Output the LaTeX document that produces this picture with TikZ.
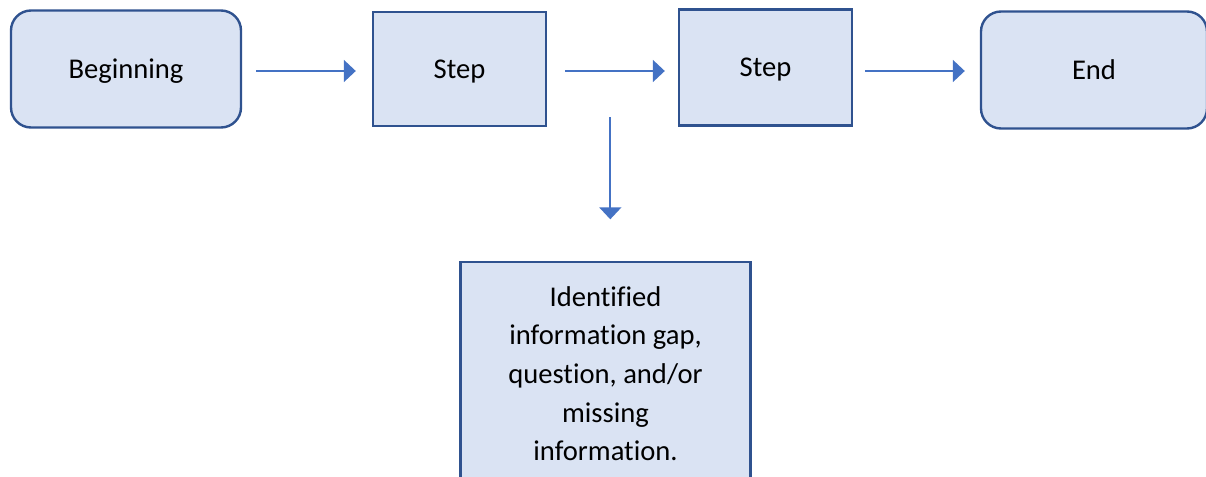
\documentclass[tikz,border=0pt]{standalone}
\usepackage{fontspec}
\setmainfont{Carlito}[Ligatures=NoCommon]
\usetikzlibrary{arrows.meta,calc}
\definecolor{boxfill}{HTML}{DAE3F3}
\definecolor{boxdraw}{HTML}{2F528F}
\definecolor{arrowc}{HTML}{4472C4}
\tikzset{
  boxbase/.style={draw=boxdraw, fill=boxfill, line width=2.4pt, inner sep=0pt,
    font=\fontsize{28.6}{38.7}\selectfont, text=black, align=center},
  onetext/.style={text height=18.4pt, text depth=0pt},
  roundbox/.style={boxbase, onetext, rounded corners=20pt},
  sqbox/.style={boxbase, onetext},
  flow/.style={draw=arrowc, line width=2pt, -{Triangle[length=12pt,width=22pt]}}
}
\begin{document}
\begin{tikzpicture}[x=1pt,y=-1pt]
\useasboundingbox (0,0) rectangle (1206,476);
\node[roundbox, minimum width=230pt, minimum height=117pt] (begin) at (126,69) {Beginning};
\node[sqbox, minimum width=173pt, minimum height=114pt] (step1) at (459.5,69) {Step};
\node[sqbox, minimum width=173pt, minimum height=116pt] (step2) at (765.5,67.5) {Step};
\node[roundbox, minimum width=226pt, minimum height=117pt] (end) at (1094,70) {End};
\node[boxbase, minimum width=290pt, minimum height=240pt, anchor=north] (gap) at (605.5,261) {};
\node[font=\fontsize{28.6}{38.7}\selectfont, align=center, anchor=north, inner sep=0pt] (gaptext) at (605.5,286)
  {Identified\\information gap,\\question, and/or\\missing\\information.};
\draw[flow, shorten <=14pt, shorten >=16pt] (begin.east |- 0,71) -- (step1.west |- 0,71);
\draw[flow, shorten <=18pt, shorten >=13pt] (step1.east |- 0,71) -- (step2.west |- 0,71);
\draw[flow, shorten <=12pt, shorten >=15pt] (step2.east |- 0,71) -- (end.west |- 0,71);
\coordinate (vstart) at (610.3,117.3);
\coordinate (vend) at (610.3,219.3);
\draw[flow] (vstart) -- (vend);
\end{tikzpicture}
\end{document}
